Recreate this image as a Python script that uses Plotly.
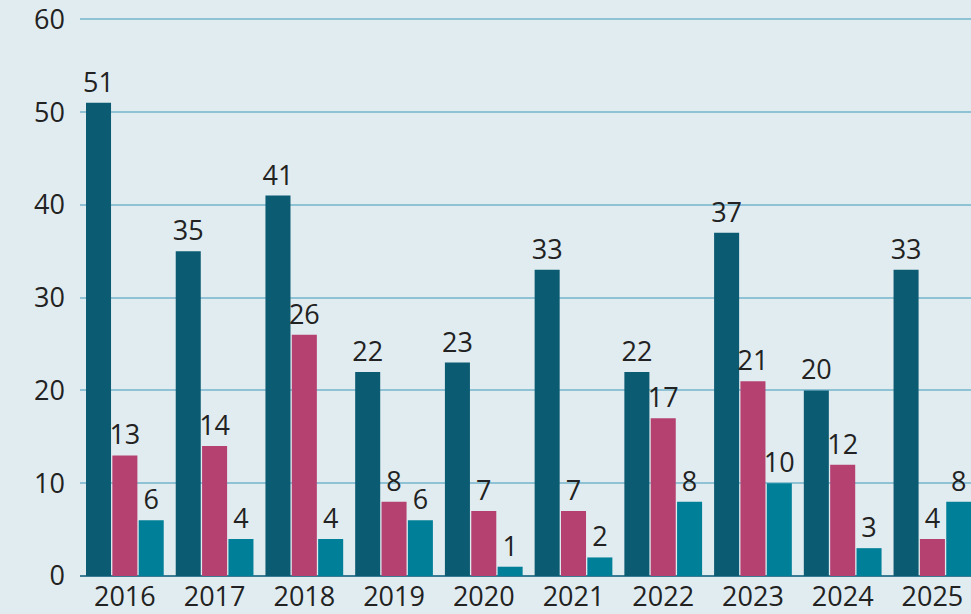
import plotly.graph_objects as go

years = ["2016", "2017", "2018", "2019", "2020", "2021", "2022", "2023", "2024", "2025"]
series_a = [51, 35, 41, 22, 23, 33, 22, 37, 20, 33]
series_b = [13, 14, 26, 8, 7, 7, 17, 21, 12, 4]
series_c = [6, 4, 4, 6, 1, 2, 8, 10, 3, 8]
colors = ["#0b5b72", "#b54171", "#007f98"]
y_ticks = [0, 10, 20, 30, 40, 50, 60]

FS = 27
fig = go.Figure()
for vals, col in zip([series_a, series_b, series_c], colors):
    fig.add_trace(go.Bar(
        x=years, y=vals, marker_color=col, marker_line_width=0,
        text=[str(v) for v in vals], textposition="outside", constraintext="none",
        textfont=dict(size=FS, color="#222222", family="Open Sans"),
        cliponaxis=False, showlegend=False,
    ))

fig.update_layout(
    width=971, height=614,
    margin=dict(l=80, r=0, t=15, b=38),
    paper_bgcolor="#e1ecf0", plot_bgcolor="#e1ecf0",
    barmode="group", bargap=0.119, bargroupgap=0.05,
    font=dict(family="Open Sans", size=FS, color="#222222"),
)
fig.update_xaxes(
    type="category", range=[-0.5, 9.43], showgrid=False,
    showline=False, ticks="", ticklabelstandoff=2,
    tickfont=dict(size=FS, color="#222222"),
)
fig.update_yaxes(
    range=[0, 60.25], tickvals=y_ticks, showgrid=True, gridcolor="#8fc2d5", gridwidth=1.5,
    zeroline=True, zerolinecolor="#3b7d94", zerolinewidth=2,
    ticks="", ticklabelstandoff=14, ticklabeloverflow="allow",
    tickfont=dict(size=FS, color="#222222"),
)
fig.write_html(
    "out.html",
    config={"displayModeBar": False},
    post_script="document.body.style.margin='0';document.body.style.overflow='hidden';document.body.style.background='#e1ecf0';",
)
